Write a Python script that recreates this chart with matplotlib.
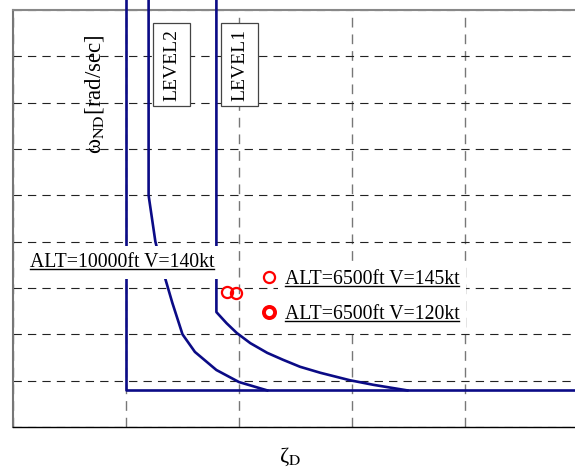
import matplotlib
matplotlib.use('Agg')
import matplotlib.pyplot as plt
from matplotlib.lines import Line2D
from matplotlib.path import Path

plt.rcParams['font.family'] = ['Liberation Serif', 'DejaVu Serif']
plt.rcParams['mathtext.fontset'] = 'stix'

# boundaries (grid units: x step = 1, y step = 1)
level3_x = [1.0, 1.0, 5.0]
level3_y = [9.3, 0.79, 0.79]

level2_x = [1.2, 1.2, 1.26, 1.32, 1.41, 1.5, 1.61, 1.8, 2.0, 2.25]
level2_y = [9.3, 5.0, 4.0, 3.43, 2.68, 2.0, 1.62, 1.23, 0.97, 0.79]

level1_x = [1.8, 1.8, 1.89, 1.98, 2.1, 2.25, 2.39, 2.54, 2.72, 2.98, 3.19, 3.49]
level1_y = [9.3, 2.48, 2.24, 2.03, 1.81, 1.6, 1.45, 1.3, 1.17, 1.01, 0.91, 0.79]

# flight test points
pts145_x = [1.894]
pts145_y = [2.91]
pts120_x = [1.973]
pts120_y = [2.89]

blue = '#0b0b86'


def label_box(x0, y0, width, height, mutation_size):
    # rectangle with separate padding along / across the text
    px = 0.28 * mutation_size
    py = 0.5 * mutation_size
    x0, y0, x1, y1 = x0 - px, y0 - py, x0 + width + px, y0 + height + py
    return Path([(x0, y0), (x1, y0), (x1, y1), (x0, y1), (x0, y0)], closed=True)


fig = plt.figure(figsize=(5.75, 4.75), dpi=100)
ax = fig.add_axes([13 / 575, 48 / 475, 565 / 575, 417 / 475])
ax.set_xlim(0, 5)
ax.set_ylim(0, 9)
ax.set_xticks(range(0, 6))
ax.set_yticks(range(0, 10))
ax.tick_params(length=0, labelbottom=False, labelleft=False)
ax.xaxis.grid(True, color='#777777', linestyle=(0, (7, 5)), linewidth=1.0)
ax.yaxis.grid(True, color='#222222', linestyle=(0, (7.5, 5.5)), linewidth=0.8)
ax.spines['left'].set_color('#777777')
ax.spines['left'].set_linewidth(1.5)
ax.spines['top'].set_color('#888888')
ax.spines['top'].set_linewidth(1.5)
ax.spines['bottom'].set_linewidth(1.0)
ax.spines['right'].set_visible(False)

for xs, ys in [(level3_x, level3_y), (level2_x, level2_y), (level1_x, level1_y)]:
    ax.plot(xs, ys, color=blue, lw=1.9, clip_on=False, zorder=3)

ax.plot(pts145_x, pts145_y, ls='none', marker='o', ms=8, mfc='none', mec='red', mew=1.6,
        zorder=4, label='ALT=6500ft V=145kt')
ax.plot(pts120_x, pts120_y, ls='none', marker='o', ms=8, mfc='none', mec='red', mew=1.6,
        zorder=4, label='ALT=6500ft V=120kt')

box = dict(boxstyle=label_box, fc='white', ec='#444444', lw=0.9)
ax.text(1.403, 7.82, 'LEVEL2', rotation=90, ha='center', va='center', fontsize=14, bbox=box, zorder=6)
ax.text(2.004, 7.82, 'LEVEL1', rotation=90, ha='center', va='center', fontsize=14, bbox=box, zorder=6)

ax.text(0.717, 7.19, 'ω$_{\\mathrm{ND}}$[rad/sec]', rotation=90, ha='center', va='center',
        fontsize=16.5)

alt10000 = ax.text(0.15, 3.45, 'ALT=10000ft V=140kt', ha='left', va='baseline', fontsize=14.2,
                   bbox=dict(boxstyle='square,pad=0.35', fc='white', ec='none'), zorder=6)

leg = ax.legend(loc='upper left', bbox_to_anchor=(259 / 575, 1 - 270 / 475),
                bbox_transform=fig.transFigure, frameon=False, fontsize=14.2,
                handlelength=1.0, handletextpad=0.3, labelspacing=0.8, borderpad=0,
                borderaxespad=0)
leg.legend_handles[1].set_markeredgewidth(2.8)
for t in leg.get_texts():
    t.set_bbox(dict(boxstyle='square,pad=0.35', fc='white', ec='none'))

fig.text(290 / 575, 1 - 457 / 475, 'ζ$_{\\mathrm{D}}$', ha='center', va='center', fontsize=16)

# underline the annotation texts
fig.canvas.draw()
inv = fig.transFigure.inverted()
for t in [alt10000] + leg.get_texts():
    bb = t.get_window_extent()
    (x0, y0), (x1, _) = inv.transform([[bb.x0, bb.y0 + 3], [bb.x1, bb.y0 + 3]])
    fig.add_artist(Line2D([x0, x1], [y0, y0], color='black', lw=1.0, zorder=7))

fig.savefig('out.png', dpi=100)
